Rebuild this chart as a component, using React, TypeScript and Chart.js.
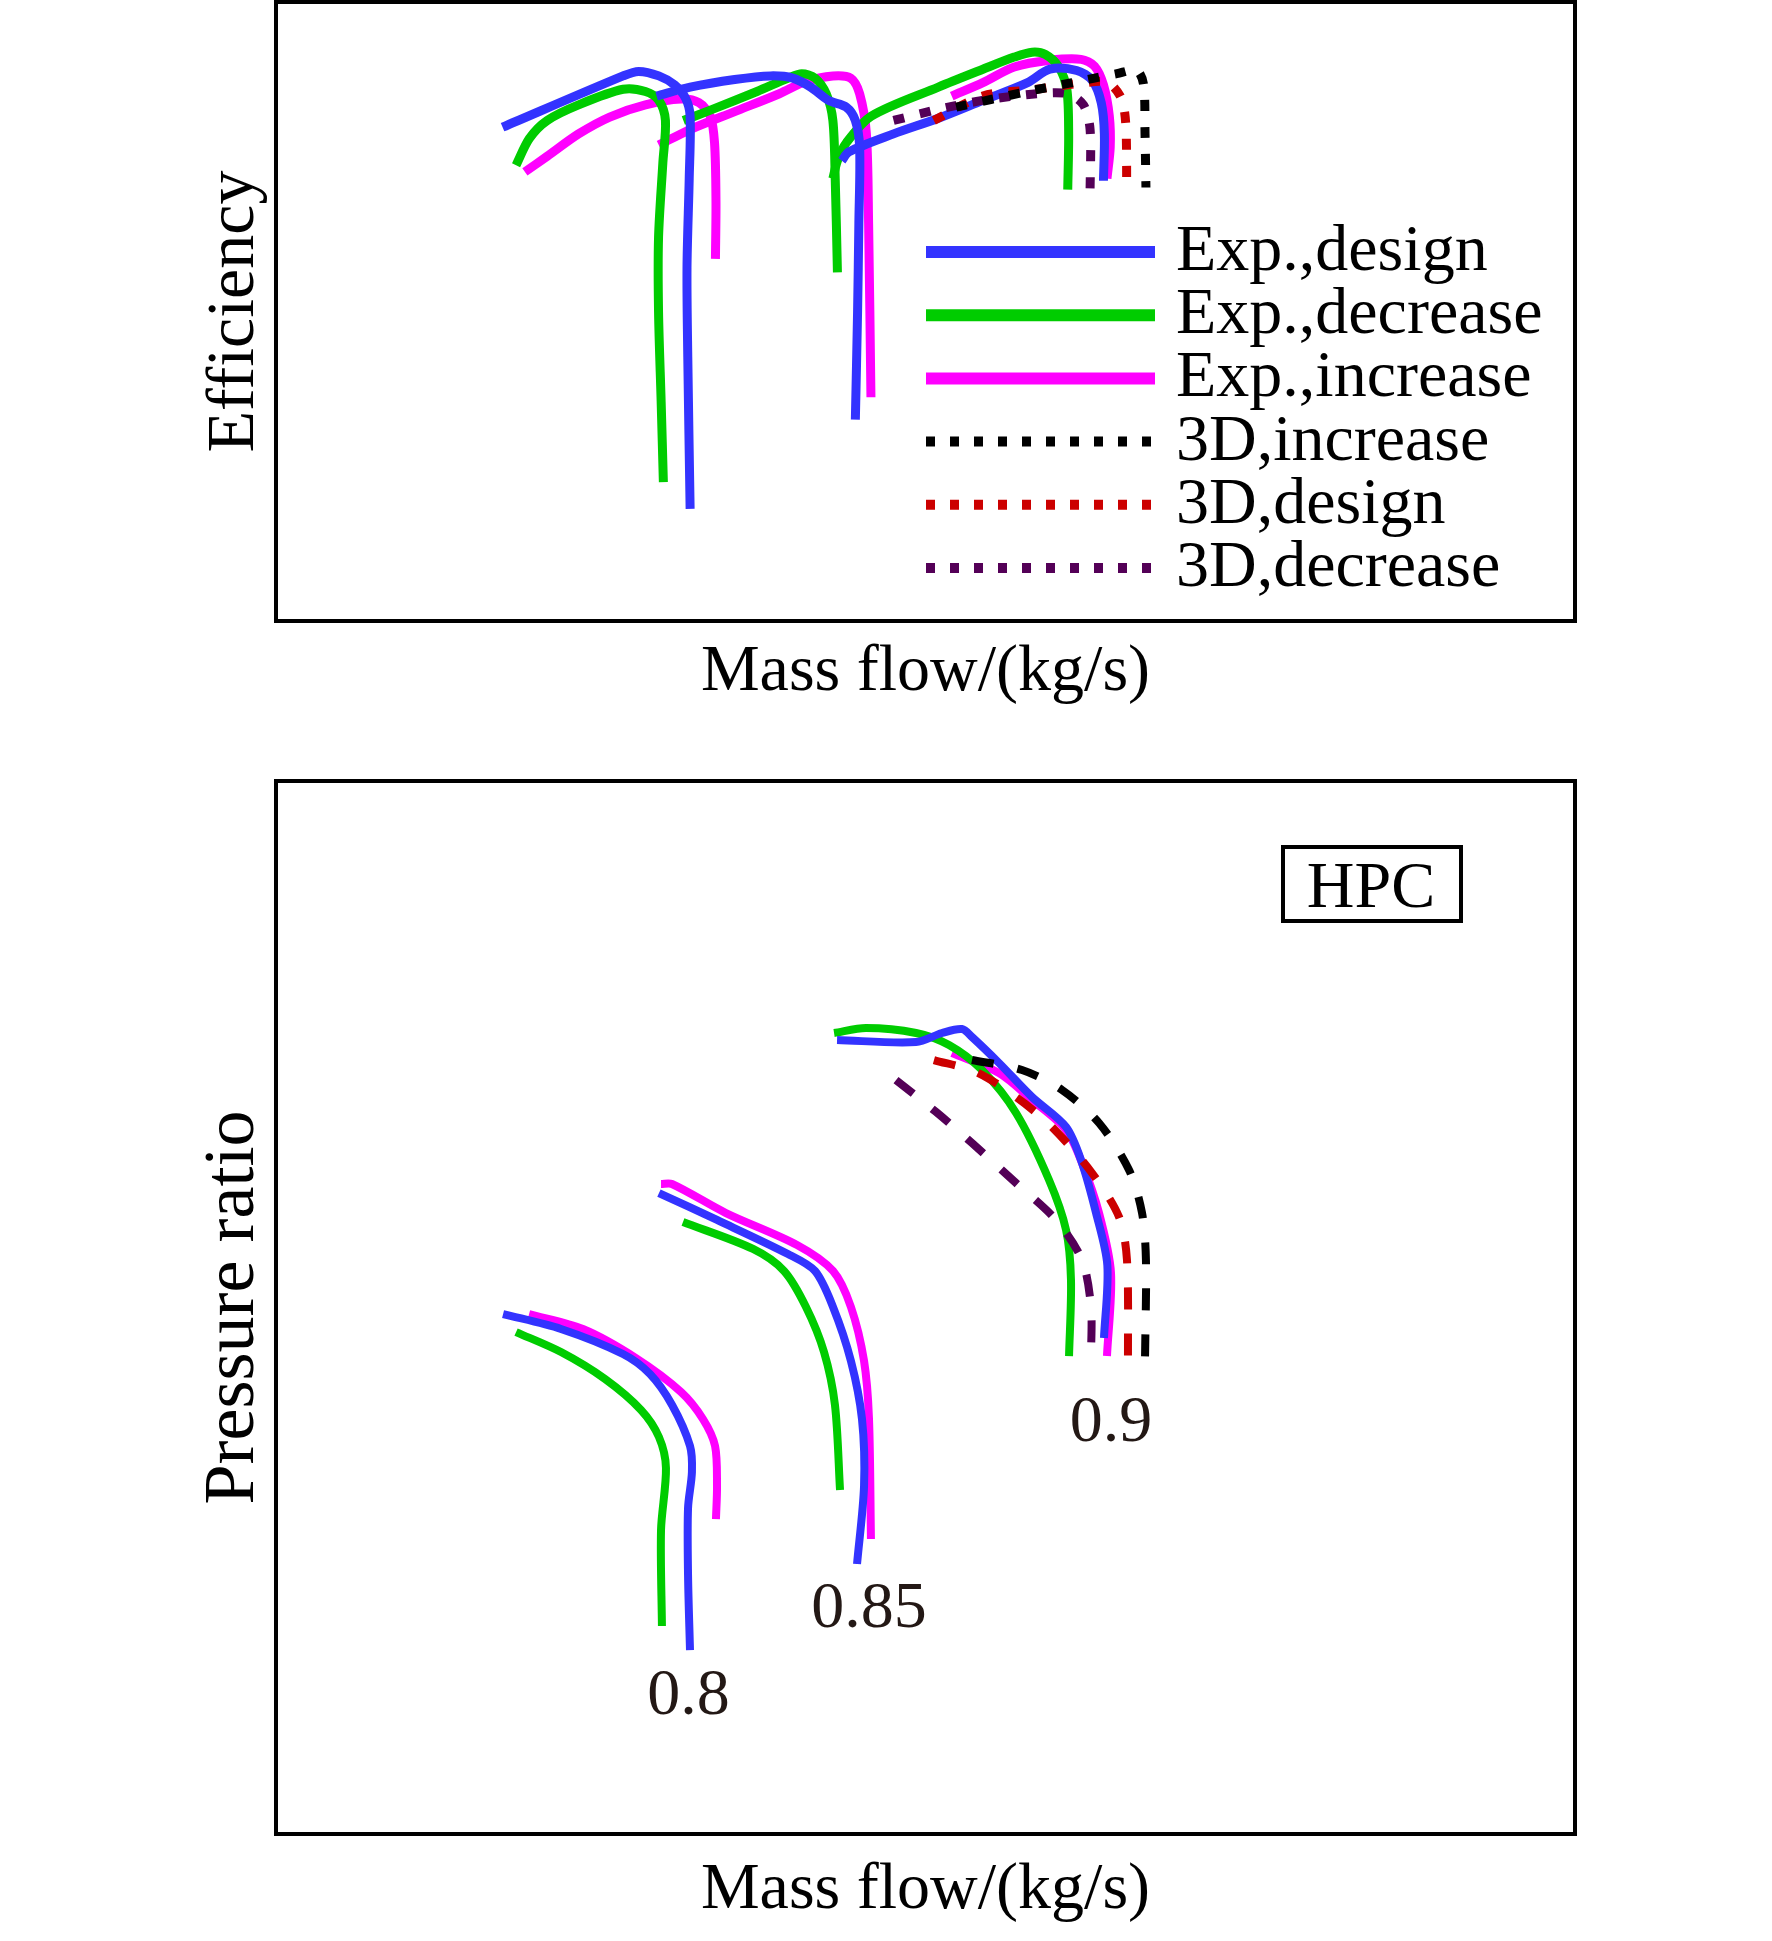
import React, { useEffect, useRef } from 'react';
import { Chart, registerables } from 'chart.js';

Chart.register(...registerables);

const FONT = "'Liberation Serif', 'Times New Roman', serif";

// ---- series definitions ----
const seriesLabels = ['Exp.,design', 'Exp.,decrease', 'Exp.,increase', '3D,increase', '3D,design', '3D,decrease'];
const seriesColors = ['#3333ff', '#00cc00', '#ff00ff', '#000000', '#cc0000', '#540057'];
const seriesDashed = [false, false, false, true, true, true];

// ---- Efficiency map (relative units; x = mass flow, y = efficiency) ----
const effDesign08 = [[17.44, 79.77], [26.72, 88.06], [27.92, 88.79], [29.47, 88.06], [30.67, 86.62], [31.53, 84.46], [31.88, 81.57], [31.81, 71.47], [31.64, 57.04], [31.70, 42.63], [31.88, 18.11]];
const effDesign085 = [[29.30, 84.81], [31.88, 86.25], [35.31, 87.48], [38.06, 88.06], [39.78, 87.70], [41.16, 86.25], [42.53, 84.10], [43.90, 83.02], [44.60, 80.86], [44.93, 76.53], [44.87, 64.26], [44.77, 49.84], [44.60, 32.54]];
const effDesign09 = [[43.56, 74.36], [44.11, 75.80], [47.54, 78.69], [50.99, 81.21], [54.42, 84.10], [57.86, 86.98], [59.58, 89.14], [61.64, 88.93], [62.84, 87.33], [63.53, 83.73], [63.77, 78.69], [63.70, 71.12]];
const effDecrease08 = [[18.48, 73.64], [19.51, 77.96], [20.88, 80.86], [23.29, 83.38], [26.72, 85.90], [28.44, 85.54], [29.47, 84.10], [29.98, 80.86], [29.78, 74.0], [29.45, 62.0], [29.45, 49.84], [29.65, 35.41], [29.82, 22.44]];
const effDecrease085 = [[31.36, 80.86], [33.59, 82.65], [37.03, 85.54], [39.44, 87.70], [40.47, 88.42], [41.50, 87.70], [42.36, 85.18], [42.87, 80.86], [43.05, 71.47], [43.22, 56.33]];
const effDecrease09 = [[42.87, 71.47], [43.22, 74.36], [43.90, 77.24], [45.83, 81.57], [50.99, 86.25], [54.42, 89.14], [56.83, 91.10], [58.20, 91.89], [59.23, 91.52], [60.26, 89.50], [60.88, 85.90], [61.02, 78.69], [60.95, 69.68]];
const effIncrease08 = [[19.16, 72.55], [20.88, 75.08], [23.29, 78.69], [25.69, 81.42], [28.44, 83.38], [31.19, 84.31], [32.56, 83.73], [33.43, 81.57], [33.76, 77.24], [33.87, 67.87], [33.83, 58.50]];
const effIncrease085 = [[29.47, 76.88], [31.88, 79.40], [35.31, 82.29], [38.75, 85.18], [40.81, 87.20], [42.87, 88.06], [44.25, 87.70], [44.93, 85.18], [45.45, 78.69], [45.62, 64.26], [45.80, 36.14]];
const effIncrease09 = [[52.02, 84.81], [54.42, 86.98], [56.83, 89.50], [59.58, 90.58], [61.98, 90.73], [63.01, 89.64], [63.70, 86.62], [64.15, 81.57], [64.22, 76.53], [63.97, 71.47]];
const effCfdIncrease09 = [[52.36, 83.02], [57.86, 85.54], [61.29, 86.98], [64.73, 88.42], [66.27, 88.93], [66.79, 86.62], [66.90, 78.69], [66.97, 70.03]];
const effCfdDesign09 = [[50.64, 80.86], [54.42, 84.81], [58.55, 85.90], [62.32, 86.98], [64.04, 86.98], [65.07, 84.46], [65.42, 80.13], [65.49, 69.68]];
const effCfdDecrease09 = [[47.54, 80.86], [50.99, 82.65], [54.42, 84.10], [58.55, 85.18], [60.95, 85.18], [62.16, 83.38], [62.67, 79.40], [62.67, 69.30]];

// ---- Pressure-ratio map (relative units) ----
const prDesign08 = [[17.48, 49.38], [21.94, 47.96], [26.71, 45.58], [28.79, 43.68], [30.49, 40.74], [31.87, 36.85], [32.02, 34.38], [31.72, 30.96], [31.72, 24.60], [31.87, 17.47]];
const prDesign085 = [[29.48, 60.87], [33.95, 58.31], [39.41, 55.08], [41.49, 53.47], [42.88, 50.05], [44.26, 44.92], [45.11, 39.41], [45.27, 33.05], [44.73, 25.64]];
const prDesign09 = [[43.19, 75.40], [49.27, 75.21], [51.27, 76.07], [52.81, 76.45], [53.58, 75.69], [55.66, 73.22], [58.20, 69.99], [60.82, 67.14], [62.0, 63.9], [63.13, 58.97], [64.0, 54.0], [63.74, 47.10]];
const prDecrease08 = [[18.48, 47.67], [21.94, 45.77], [25.33, 43.21], [28.10, 40.27], [29.48, 37.70], [30.02, 34.76], [29.64, 28.87], [29.71, 19.75]];
const prDecrease085 = [[31.33, 58.12], [36.72, 55.56], [39.11, 53.47], [40.80, 50.05], [42.19, 45.77], [43.03, 40.74], [43.42, 32.67]];
const prDecrease09 = [[42.96, 76.07], [45.42, 76.54], [49.27, 76.07], [51.81, 74.93], [54.35, 72.55], [56.97, 68.47], [59.51, 62.11], [60.82, 57.36], [61.20, 52.61], [61.05, 45.39]];
const prIncrease08 = [[19.48, 49.38], [23.63, 47.96], [27.71, 45.20], [31.18, 41.98], [32.87, 39.41], [33.80, 36.85], [33.95, 33.05], [33.87, 29.91]];
const prIncrease085 = [[29.64, 61.73], [30.48, 61.73], [34.64, 58.97], [40.11, 55.94], [42.88, 53.47], [44.26, 50.05], [45.27, 44.92], [45.65, 39.41], [45.80, 28.02]];
const prIncrease09 = [[52.04, 74.17], [55.66, 72.27], [58.20, 69.71], [60.82, 66.86], [62.05, 63.72], [63.36, 58.97], [64.28, 53.28], [63.97, 45.39]];
const prCfdIncrease09 = [[53.58, 73.50], [57.43, 72.55], [60.51, 70.66], [63.36, 67.52], [65.67, 63.06], [66.67, 58.97], [66.97, 54.51], [66.90, 45.20]];
const prCfdDesign09 = [[50.65, 73.50], [53.89, 72.36], [56.97, 69.99], [59.74, 67.14], [62.82, 62.77], [64.90, 58.59], [65.51, 54.51], [65.59, 44.92]];
const prCfdDecrease09 = [[47.73, 71.60], [50.81, 68.57], [53.58, 65.62], [56.97, 61.82], [60.05, 58.31], [62.05, 54.51], [62.74, 50.05], [62.74, 45.20]];

// speed-line labels (relative speed) and where they sit, in data units
const speedLabelText = ['0.8', '0.85', '0.9'];
const speedLabelX = [31.76, 45.65, 64.28];
const speedLabelY = [13.01, 21.27, 38.94];

const effCurves = [
  [effDesign08, effDesign085, effDesign09],
  [effDecrease08, effDecrease085, effDecrease09],
  [effIncrease08, effIncrease085, effIncrease09],
  [effCfdIncrease09],
  [effCfdDesign09],
  [effCfdDecrease09],
];
const prCurves = [
  [prDesign08, prDesign085, prDesign09],
  [prDecrease08, prDecrease085, prDecrease09],
  [prIncrease08, prIncrease085, prIncrease09],
  [prCfdIncrease09],
  [prCfdDesign09],
  [prCfdDecrease09],
];

function buildDatasets(curves: number[][][][], solidWidth: number, dashWidth: number, dash: number[]) {
  const ds: any[] = [];
  curves.forEach((group, si) => {
    group.forEach((pts) => {
      ds.push({
        label: seriesLabels[si],
        data: pts.map(([x, y]) => ({ x, y })),
        borderColor: seriesColors[si],
        backgroundColor: seriesColors[si],
        borderWidth: seriesDashed[si] ? dashWidth : solidWidth,
        borderDash: seriesDashed[si] ? dash : [],
        borderCapStyle: 'butt',
        pointRadius: 0,
        pointHoverRadius: 0,
        tension: 0.3,
        fill: false,
        order: seriesDashed[si] ? 0 : 1,
      });
    });
  });
  return ds;
}

function buildScales(xTitle: string, yTitle: string, yFont: number, xHeight: number, xPadBottom: number, yWidth: number, yPadTop: number) {
  return {
    x: {
      type: 'linear',
      min: 0,
      max: 100,
      grid: { display: false, drawTicks: false },
      ticks: { display: false },
      border: { display: false },
      title: { display: true, text: xTitle, color: '#000', font: { family: FONT, size: 66 }, padding: { top: 0, bottom: xPadBottom } },
      afterFit: (s: any) => { s.height = xHeight; },
    },
    y: {
      type: 'linear',
      min: 0,
      max: 100,
      grid: { display: false, drawTicks: false },
      ticks: { display: false },
      border: { display: false },
      title: { display: true, text: yTitle, color: '#000', font: { family: FONT, size: yFont }, padding: { top: yPadTop, bottom: 0 } },
      afterFit: (s: any) => { s.width = yWidth; },
    },
  };
}

const framePlugin = {
  id: 'frameBox',
  afterDraw(chart: any) {
    const { ctx, chartArea: a } = chart;
    ctx.save();
    ctx.strokeStyle = '#000';
    ctx.lineWidth = 4;
    ctx.setLineDash([]);
    ctx.strokeRect(a.left, a.top, a.right - a.left, a.bottom - a.top);
    ctx.restore();
  },
};

const legendPlugin = {
  id: 'insideLegend',
  afterDraw(chart: any) {
    const { ctx, chartArea: a } = chart;
    const x0 = a.right - 649;
    const len = 229;
    const y0 = a.bottom - 369;
    const step = 63.2;
    ctx.save();
    seriesLabels.forEach((lab, i) => {
      const y = y0 + i * step;
      ctx.beginPath();
      ctx.strokeStyle = seriesColors[i];
      ctx.lineCap = 'butt';
      ctx.lineWidth = seriesDashed[i] ? 10 : 12;
      ctx.setLineDash(seriesDashed[i] ? [9, 15] : []);
      ctx.moveTo(x0, y);
      ctx.lineTo(x0 + len, y);
      ctx.stroke();
      ctx.setLineDash([]);
      ctx.fillStyle = '#000';
      ctx.font = `66px ${FONT}`;
      ctx.textAlign = 'left';
      ctx.textBaseline = 'alphabetic';
      ctx.fillText(lab, x0 + len + 21, y + 18);
    });
    ctx.restore();
  },
};

const hpcPlugin = {
  id: 'hpcTag',
  afterDraw(chart: any) {
    const { ctx, chartArea: a, scales } = chart;
    ctx.save();
    const bx = a.right - 292;
    const by = a.top + 66;
    ctx.strokeStyle = '#000';
    ctx.lineWidth = 4;
    ctx.strokeRect(bx, by, 178, 74);
    ctx.fillStyle = '#000';
    ctx.font = `66px ${FONT}`;
    ctx.textAlign = 'center';
    ctx.textBaseline = 'alphabetic';
    ctx.fillText('HPC', bx + 88, by + 60);
    ctx.fillStyle = '#231815';
    ctx.textBaseline = 'middle';
    speedLabelText.forEach((t, i) => {
      ctx.fillText(t, scales.x.getPixelForValue(speedLabelX[i]), scales.y.getPixelForValue(speedLabelY[i]));
    });
    ctx.restore();
  },
};

export default function App() {
  const topRef = useRef<HTMLCanvasElement>(null);
  const botRef = useRef<HTMLCanvasElement>(null);

  useEffect(() => {
    const common = {
      responsive: false,
      animation: false,
      events: [],
      plugins: { legend: { display: false }, tooltip: { enabled: false } },
    };
    const top = new Chart(topRef.current as HTMLCanvasElement, {
      type: 'line',
      data: { datasets: buildDatasets(effCurves, 9, 9, [11, 16]) },
      options: {
        ...common,
        layout: { padding: { top: 2, right: 197, left: 0, bottom: 0 } },
        scales: buildScales('Mass flow/(kg/s)', 'Efficiency', 68, 119, 27.4, 276, 194),
      } as any,
      plugins: [framePlugin, legendPlugin],
    });
    const bot = new Chart(botRef.current as HTMLCanvasElement, {
      type: 'line',
      data: { datasets: buildDatasets(prCurves, 8, 8, [22, 24]) },
      options: {
        ...common,
        layout: { padding: { top: 21, right: 197, left: 0, bottom: 0 } },
        scales: buildScales('Mass flow/(kg/s)', 'Pressure ratio', 72, 107, 10.4, 276, 190.5),
      } as any,
      plugins: [framePlugin, hpcPlugin],
    });
    return () => {
      top.destroy();
      bot.destroy();
    };
  }, []);

  return (
    <div style={{ position: 'absolute', left: 0, top: 0, width: 1772, height: 1941, background: '#fff', overflow: 'hidden' }}>
      <canvas ref={topRef} width={1772} height={740} style={{ position: 'absolute', left: 0, top: 0, width: 1772, height: 740 }} />
      <canvas ref={botRef} width={1772} height={1181} style={{ position: 'absolute', left: 0, top: 760, width: 1772, height: 1181 }} />
    </div>
  );
}
